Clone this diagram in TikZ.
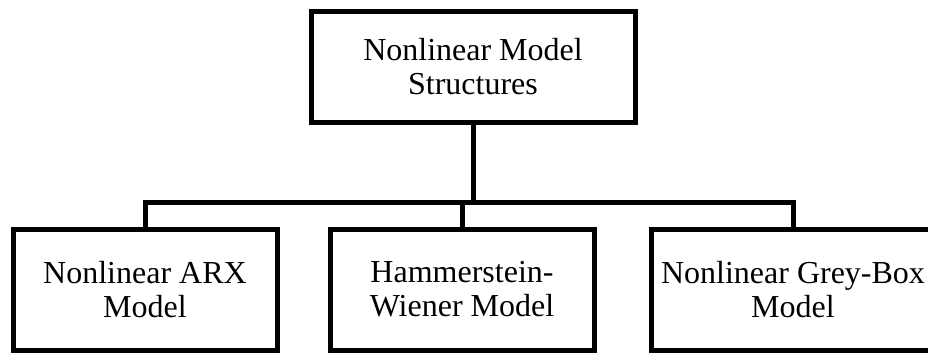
\documentclass[tikz,border=0pt]{standalone}
\usepackage{fontspec}
\setmainfont{Liberation Serif}
\begin{document}
\begin{tikzpicture}[x=1pt,y=-1pt,
  box/.style={draw,line width=5pt,rectangle,align=center,inner sep=0pt,
    font=\fontsize{32}{34}\selectfont},
  conn/.style={line width=5pt}]
\useasboundingbox (0,0) rectangle (928,353);
\node[box,minimum width=324pt,minimum height=110pt] (top) at (473,67) {Nonlinear Model\\Structures};
\node[box,minimum width=264pt,minimum height=121pt] (arx) at (145,289.5) {Nonlinear ARX\\Model};
\node[box,minimum width=264pt,minimum height=121pt] (hw) at (462,289.5) {Hammerstein-\\Wiener Model};
\node[box,minimum width=284pt,minimum height=121pt] (grey) at (793,289.5) {Nonlinear Grey-Box\\Model};
\coordinate (busL) at (145,202);
\coordinate (busR) at (793,202);
\draw[conn] (top.south) -- (top.south |- busL);
\draw[conn,line cap=rect] (busL) -- (busR);
\draw[conn] (arx.north) -- (arx.north |- busL);
\draw[conn] (hw.north) -- (hw.north |- busL);
\draw[conn] (grey.north) -- (grey.north |- busR);
\end{tikzpicture}
\end{document}
